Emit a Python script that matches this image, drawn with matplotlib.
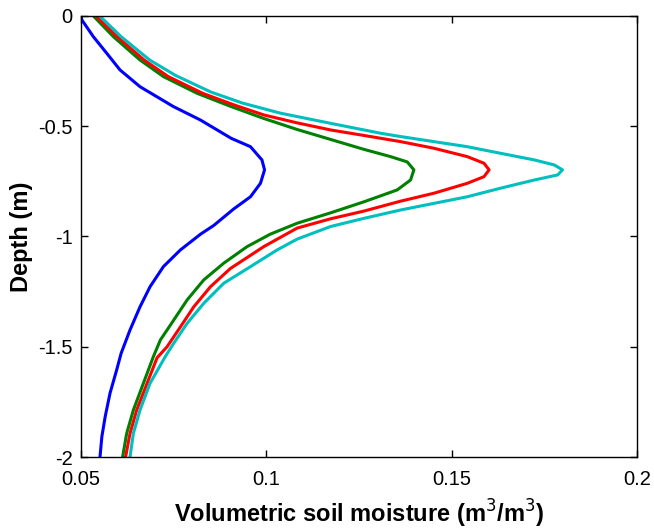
import numpy as np
import matplotlib.pyplot as plt

plt.rcParams['font.family'] = ['Liberation Sans', 'DejaVu Sans']

# soil moisture profiles: moisture (m3/m3) and depth (m)
blue_x = [0.0500, 0.0502, 0.0533, 0.0569, 0.0605, 0.0659, 0.0749, 0.0822, 0.0905, 0.0957,
          0.0988, 0.0995, 0.0984, 0.0957, 0.0912, 0.0858, 0.0822, 0.0768, 0.0722, 0.0686,
          0.0659, 0.0632, 0.0608, 0.0596, 0.0578, 0.0565, 0.0556, 0.0551]
blue_y = [0.0, -0.018, -0.094, -0.169, -0.245, -0.321, -0.411, -0.472, -0.555, -0.593,
          -0.653, -0.698, -0.759, -0.820, -0.875, -0.950, -0.990, -1.061, -1.137, -1.228,
          -1.319, -1.424, -1.530, -1.605, -1.711, -1.817, -1.908, -2.0]

green_x = [0.0533, 0.0587, 0.0659, 0.0722, 0.0813, 0.0903, 0.0993, 0.1083, 0.1173, 0.1263,
           0.1335, 0.1380, 0.1398, 0.1389, 0.1353, 0.1263, 0.1173, 0.1083, 0.1010, 0.0948,
           0.0885, 0.0831, 0.0786, 0.0750, 0.0714, 0.0695, 0.0668, 0.0641, 0.0623, 0.0612]
green_y = [0.0, -0.094, -0.200, -0.275, -0.351, -0.410, -0.465, -0.515, -0.560, -0.605,
           -0.638, -0.662, -0.698, -0.744, -0.789, -0.843, -0.893, -0.940, -0.990, -1.046,
           -1.121, -1.197, -1.288, -1.379, -1.469, -1.545, -1.666, -1.787, -1.893, -2.0]

red_x = [0.0540, 0.0597, 0.0670, 0.0735, 0.0828, 0.0915, 0.0993, 0.1083, 0.1173, 0.1263,
         0.1362, 0.1452, 0.1542, 0.1587, 0.1601, 0.1587, 0.1542, 0.1452, 0.1362, 0.1263,
         0.1173, 0.1083, 0.0993, 0.0903, 0.0849, 0.0804, 0.0768, 0.0732, 0.0705, 0.0678,
         0.0650, 0.0632, 0.0620]
red_y = [0.0, -0.094, -0.200, -0.275, -0.351, -0.405, -0.449, -0.485, -0.517, -0.542,
         -0.570, -0.600, -0.638, -0.668, -0.698, -0.729, -0.759, -0.804, -0.840, -0.885,
         -0.920, -0.962, -1.046, -1.145, -1.228, -1.319, -1.410, -1.500, -1.550, -1.666,
         -1.787, -1.893, -2.0]

cyan_x = [0.0550, 0.0608, 0.0685, 0.0755, 0.0850, 0.0935, 0.1038, 0.1173, 0.1308, 0.1362,
          0.1452, 0.1542, 0.1632, 0.1723, 0.1777, 0.1799, 0.1786, 0.1723, 0.1632, 0.1542,
          0.1452, 0.1362, 0.1263, 0.1173, 0.1083, 0.1029, 0.0957, 0.0885, 0.0831, 0.0786,
          0.0750, 0.0727, 0.0686, 0.0659, 0.0641, 0.0632]
cyan_y = [0.0, -0.094, -0.200, -0.270, -0.345, -0.395, -0.441, -0.487, -0.532, -0.547,
          -0.570, -0.593, -0.623, -0.653, -0.676, -0.698, -0.721, -0.744, -0.781, -0.820,
          -0.850, -0.880, -0.918, -0.955, -1.012, -1.061, -1.137, -1.212, -1.303, -1.394,
          -1.484, -1.545, -1.666, -1.787, -1.893, -2.0]

xticks = [0.05, 0.1, 0.15, 0.2]
xtick_labels = ['0.05', '0.1', '0.15', '0.2']
yticks = [-2, -1.5, -1, -0.5, 0]
ytick_labels = ['-2', '-1.5', '-1', '-0.5', '0']

fig = plt.figure(figsize=(6.54, 5.30), dpi=100)
ax = fig.add_axes([0.124, 0.1377, 0.850, 0.8323])

ax.plot(blue_x, blue_y, color='#0000ff', lw=2.2)
ax.plot(green_x, green_y, color='#008000', lw=2.2)
ax.plot(red_x, red_y, color='#ff0000', lw=2.2)
ax.plot(cyan_x, cyan_y, color='#00bfbf', lw=2.2)

ax.set_xlim(0.05, 0.2)
ax.set_ylim(-2, 0)
ax.set_xticks(xticks)
ax.set_xticklabels(xtick_labels)
ax.set_yticks(yticks)
ax.set_yticklabels(ytick_labels)
ax.tick_params(direction='in', top=True, right=True, length=5, width=1,
               labelsize=14.5)
ax.tick_params(axis='x', pad=9)
ax.tick_params(axis='y', pad=6)
for s in ax.spines.values():
    s.set_linewidth(1.0)

ax.set_xlabel('Volumetric soil moisture (m$^3$/m$^3$)', fontsize=17,
              fontweight='bold', labelpad=7)
ax.set_ylabel('Depth (m)', fontsize=17, fontweight='bold', labelpad=4)

fig.savefig('out.png', dpi=100)
